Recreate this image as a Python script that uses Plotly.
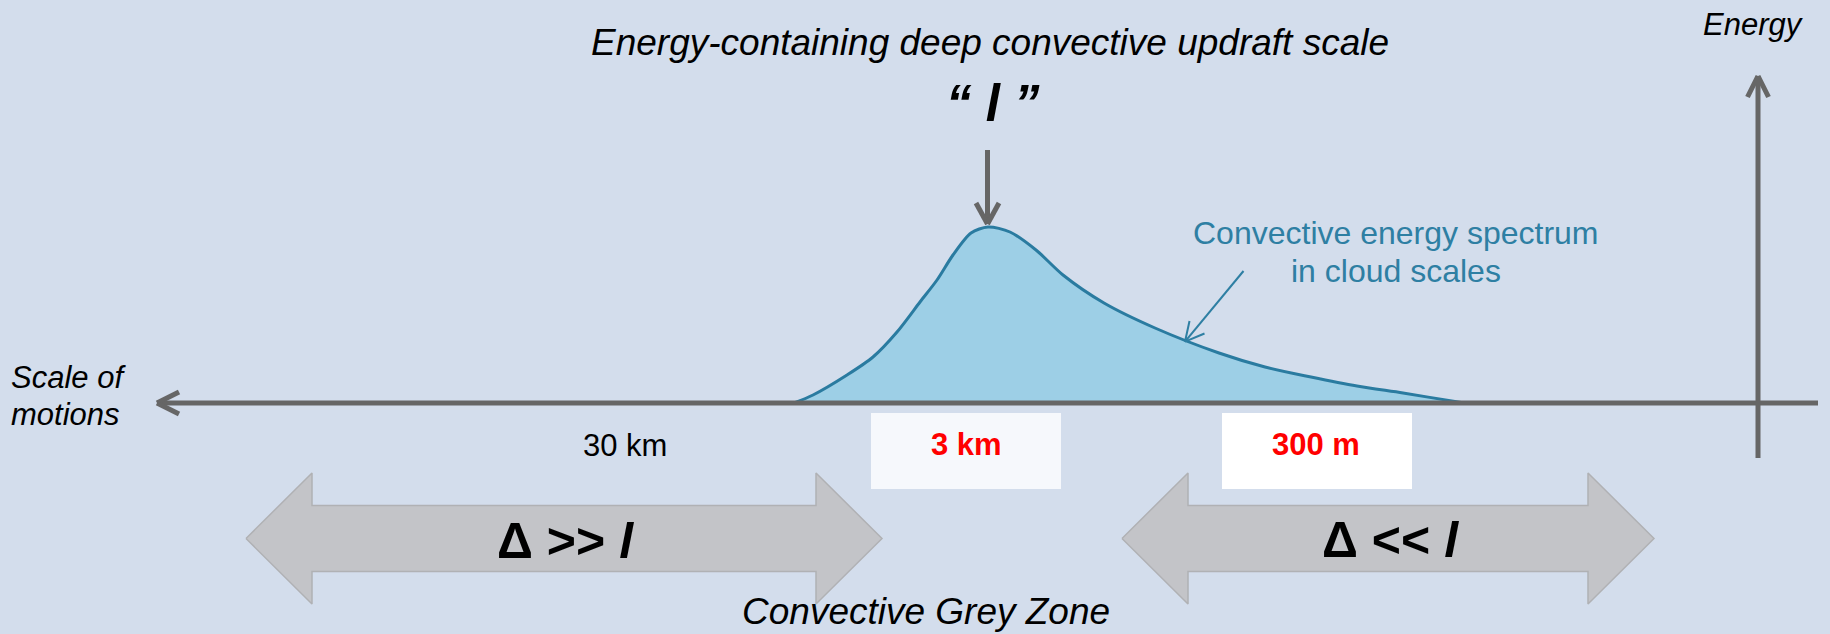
import plotly.graph_objects as go

W, H = 1830, 634
AXIS_PX = 403          # pixel row of the horizontal scale axis
FONT = "Liberation Sans, Arial, sans-serif"

# ---- data ----
# convective energy spectrum: scale position (px) and energy (px above the axis)
spectrum_x = [794, 813, 847, 873, 897, 920, 937, 953, 971, 988, 1010, 1036,
              1063, 1104, 1155, 1219, 1265, 1311, 1357, 1403, 1458, 1465]
spectrum_e = [0, 8, 28, 46, 71, 101, 123, 148, 170, 176, 171, 153,
              128, 100, 75, 50, 36, 26, 17, 10, 1, 0]

scale_labels = ["30 km", "3 km", "300 m"]
regime_labels = ["Δ >> <i>l</i>", "Δ << <i>l</i>"]

# ---- colours ----
BG = "#D3DDEC"
AXIS_C = "#666666"
FILL_C = "#9DCFE6"
LINE_C = "#2A7BA0"
TEAL = "#2E7FA3"
ARROW_FILL = "#C3C4C8"
ARROW_EDGE = "#B0B1B4"


def Y(top):
    """pixel row (from top) -> data y (energy units above axis)"""
    return AXIS_PX - top


fig = go.Figure()

# spectrum
fig.add_trace(go.Scatter(
    x=spectrum_x, y=spectrum_e, mode="lines",
    line=dict(color=LINE_C, width=3, shape="spline", smoothing=0.8),
    fill="tozeroy", fillcolor=FILL_C, hoverinfo="skip", showlegend=False))


def double_arrow(x0, x1, yc, head_len, head_half, shaft_half):
    xs = [x0, x0 + head_len, x0 + head_len, x1 - head_len, x1 - head_len, x1,
          x1 - head_len, x1 - head_len, x0 + head_len, x0 + head_len, x0]
    ys = [yc, yc - head_half, yc - shaft_half, yc - shaft_half, yc - head_half, yc,
          yc + head_half, yc + shaft_half, yc + shaft_half, yc + head_half, yc]
    return xs, [Y(v) for v in ys]


for (x0, x1) in [(246, 882), (1122, 1654)]:
    xs, ys = double_arrow(x0, x1, 538.5, 66, 65.5, 33)
    fig.add_trace(go.Scatter(x=xs, y=ys, mode="lines", fill="toself",
                             fillcolor=ARROW_FILL,
                             line=dict(color=ARROW_EDGE, width=1.5),
                             hoverinfo="skip", showlegend=False))

shapes = []


def line(x0, t0, x1, t1, color=AXIS_C, width=5):
    shapes.append(dict(type="line", xref="x", yref="y", x0=x0, y0=Y(t0),
                       x1=x1, y1=Y(t1), line=dict(color=color, width=width),
                       layer="above"))


# label boxes
shapes.append(dict(type="rect", xref="x", yref="y", x0=871, x1=1061,
                   y0=Y(413), y1=Y(489), fillcolor="#F6F8FC",
                   line=dict(width=0), layer="below"))
shapes.append(dict(type="rect", xref="x", yref="y", x0=1222, x1=1412,
                   y0=Y(413), y1=Y(489), fillcolor="#FFFFFF",
                   line=dict(width=0), layer="below"))

# horizontal scale axis with arrow on left
line(157, AXIS_PX, 1818, AXIS_PX)
line(157, AXIS_PX, 179, AXIS_PX - 11)
line(157, AXIS_PX, 179, AXIS_PX + 11)
# vertical energy axis with arrow on top
line(1758, 458, 1758, 76)
line(1758, 76, 1747.5, 97)
line(1758, 76, 1768.5, 97)
# down arrow to the peak
line(987.5, 150, 987.5, 223)
line(987.5, 224, 976, 203)
line(987.5, 224, 999, 203)
# teal pointer arrow
line(1243.5, 271, 1185, 341.7, color=TEAL, width=2)
line(1185, 341.7, 1189.5, 321, color=TEAL, width=2)
line(1185, 341.7, 1204.5, 333.5, color=TEAL, width=2)

fig.update_layout(shapes=shapes)

ann = []


def text(s, x, top, size, color="black", xanchor="center"):
    ann.append(dict(text=s, x=x, y=Y(top), xref="x", yref="y", showarrow=False,
                    xanchor=xanchor, yanchor="middle", borderpad=0,
                    font=dict(family=FONT, size=size, color=color)))


text("<i>Energy-containing deep convective updraft scale</i>", 990, 42, 37)
text("<b><i>“ l ”</i></b>", 993, 103, 51)
text("<i>Energy</i>", 1753, 24, 31)
text("<i>Scale of</i>", 10, 377, 31, xanchor="left")
text("<i>motions</i>", 10, 414, 31, xanchor="left")
text(scale_labels[0], 625, 445, 31)
text("<b>" + scale_labels[1] + "</b>", 966, 444, 31, color="#FF0000")
text("<b>" + scale_labels[2] + "</b>", 1316, 444, 31, color="#FF0000")
text("<b>" + regime_labels[0] + "</b>", 565, 541, 50)
text("<b>" + regime_labels[1] + "</b>", 1390, 540, 50)
text("<i>Convective Grey Zone</i>", 926, 611, 37)
text("Convective energy spectrum", 1396, 233, 32, color=TEAL)
text("in cloud scales", 1396, 271, 32, color=TEAL)

fig.update_layout(
    annotations=ann,
    width=W, height=H, autosize=False,
    margin=dict(l=0, r=0, t=0, b=0, pad=0),
    paper_bgcolor=BG, plot_bgcolor=BG,
    xaxis=dict(range=[0, W], visible=False, fixedrange=True),
    yaxis=dict(range=[AXIS_PX - H, AXIS_PX], visible=False, fixedrange=True),
    showlegend=False,
)

fig.write_html("out.html", config={"displayModeBar": False},
               post_script="document.body.style.margin='0';document.body.style.overflow='hidden';")
